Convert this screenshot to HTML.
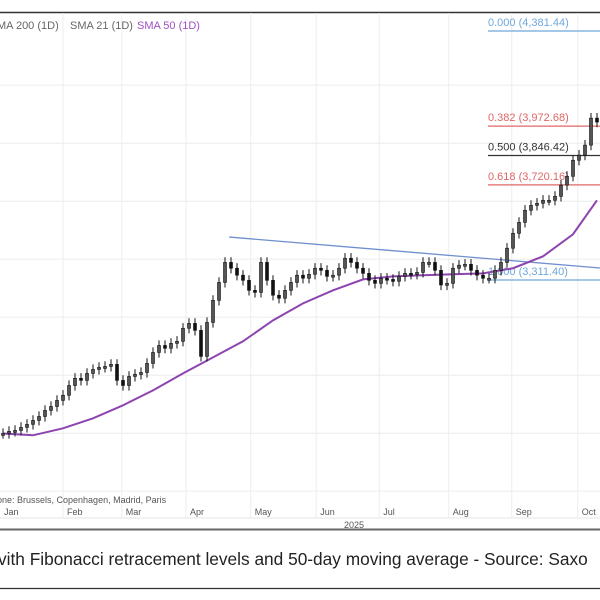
<!DOCTYPE html>
<html><head><meta charset="utf-8"><style>
body{margin:0;background:#fff;width:600px;height:600px;overflow:hidden;font-family:"Liberation Sans",sans-serif}
svg{position:absolute;left:0;top:0}
</style></head><body>
<svg id="c" width="600" height="600">
<line x1="0" y1="12.5" x2="600" y2="12.5" stroke="#333" stroke-width="1.5"/>
<g id="grid"></g>
<g id="marks"></g>
<text x="-3" y="29" font-size="11" fill="#666">MA 200 (1D)</text>
<text x="70" y="29" font-size="11" fill="#666">SMA 21 (1D)</text>
<text x="137" y="29" font-size="11" fill="#a050c0">SMA 50 (1D)</text>
<text x="-3" y="503" font-size="9" fill="#555">one: Brussels, Copenhagen, Madrid, Paris</text>
<line x1="0" y1="518" x2="600" y2="518" stroke="#e4e4e4"/>
<g id="xt"></g>
<text x="354" y="528" font-size="9" fill="#555" text-anchor="middle">2025</text>
<line x1="0" y1="529.5" x2="600" y2="529.5" stroke="#666" stroke-width="2"/>
<text x="-2" y="565" font-size="17.3" fill="#222">vith Fibonacci retracement levels and 50-day moving average - Source: Saxo</text>
<line x1="0" y1="588.5" x2="600" y2="588.5" stroke="#333" stroke-width="1.2"/>
</svg>
<script>
const closes=[2652,2661,2665,2678,2691,2708,2725,2751,2768,2794,2816,2858,2889,2880,2910,2927,2936,2940,2949,2880,2858,2897,2906,2914,2953,3000,3030,3018,3039,3048,3104,3125,3095,2983,3129,3224,3301,3387,3362,3332,3310,3267,3258,3387,3310,3246,3233,3267,3301,3332,3319,3336,3362,3353,3327,3332,3362,3405,3387,3362,3340,3310,3297,3319,3314,3306,3327,3340,3336,3344,3387,3387,3353,3290,3297,3362,3375,3379,3353,3332,3319,3319,3353,3387,3448,3512,3559,3611,3632,3641,3654,3654,3671,3719,3757,3826,3848,3891,4007,3990];
const smaIndex=[0,5,10,15,20,25,30,35,40,45,50,55,60,65,70,75,80,85,90,95,99];
const smaValues=[2652,2644,2674,2717,2773,2837,2910,2979,3048,3138,3211,3267,3314,3327,3332,3336,3340,3362,3413,3508,3654];
const fibRatios=["0.000","0.382","0.500","0.618","1.000"];
const fibPrices=[4381.44,3972.68,3846.42,3720.16,3311.40];
const fibLabels=["0.000 (4,381.44)","0.382 (3,972.68)","0.500 (3,846.42)","0.618 (3,720.16)","1.000 (3,311.40)"];
const trendIdx=[37.7,99.5];
const trendPrices=[3496,3363];
const months=["Jan","Feb","Mar","Apr","May","Jun","Jul","Aug","Sep","Oct"];
const monthIdx=[-0.5,10,19.8,30.5,41.3,52.2,62.7,74.3,84.8,95.8];
const NS="http://www.w3.org/2000/svg";
const X=i=>3+i*6;
const Y=p=>31+(4381.44-p)*249/1070.04;
function mk(t,a,parent){const e=document.createElementNS(NS,t);for(const k in a)e.setAttribute(k,a[k]);parent.appendChild(e);return e;}
const grid=document.getElementById('grid'),marks=document.getElementById('marks'),xt=document.getElementById('xt');
[4149,3899,3650,3401,3152,2902,2653,2404].forEach(p=>{const l=mk('line',{x1:0,x2:600,y1:Y(p),y2:Y(p),stroke:'#ececec'},grid);

});
months.forEach((m,k)=>{const x=X(monthIdx[k]);
if(k>0){const l=mk('line',{x1:x,x2:x,y1:13,y2:518,stroke:'#ececec'},grid);

}
const t=mk('text',{x:x+4,y:515,'font-size':9,fill:'#555'},xt);t.textContent=m;

});
const fibCol=['#6fa8dc','#e06666','#333','#e06666','#6fa8dc'];
fibPrices.forEach((p,k)=>{const y=Y(p);
const l=mk('line',{x1:488,x2:600,y1:y,y2:y,stroke:fibCol[k],'stroke-width':1.3},marks);


const t=mk('text',{x:488,y:y-5,'font-size':11,fill:fibCol[k]},marks);t.textContent=fibLabels[k];

});
const tl=mk('line',{x1:X(trendIdx[0]),y1:Y(trendPrices[0]),x2:X(trendIdx[1]),y2:Y(trendPrices[1]),stroke:'#6f8fd0','stroke-width':1.3},marks);


const sp=mk('path',{d:smaIndex.map((i,k)=>(k?'L':'M')+X(i)+','+Y(smaValues[k])).join(''),fill:'none',stroke:'#8e44b0','stroke-width':2},marks);


closes.forEach((c,i)=>{const o=i?closes[i-1]:c;const x=X(i);
const hi=Math.max(o,c)+22,lo=Math.min(o,c)-22;
const w=mk('line',{x1:x,x2:x,y1:Y(hi),y2:Y(lo),stroke:'#111','stroke-width':1},marks);


const top=Y(Math.max(o,c)),h=Math.max(2,Y(Math.min(o,c))-top);
const b=mk('rect',{x:x-1.5,y:top,width:3,height:h,fill:c>=o?'#555':'#111',stroke:'#111','stroke-width':0.6},marks);

});
</script>
</body></html>
